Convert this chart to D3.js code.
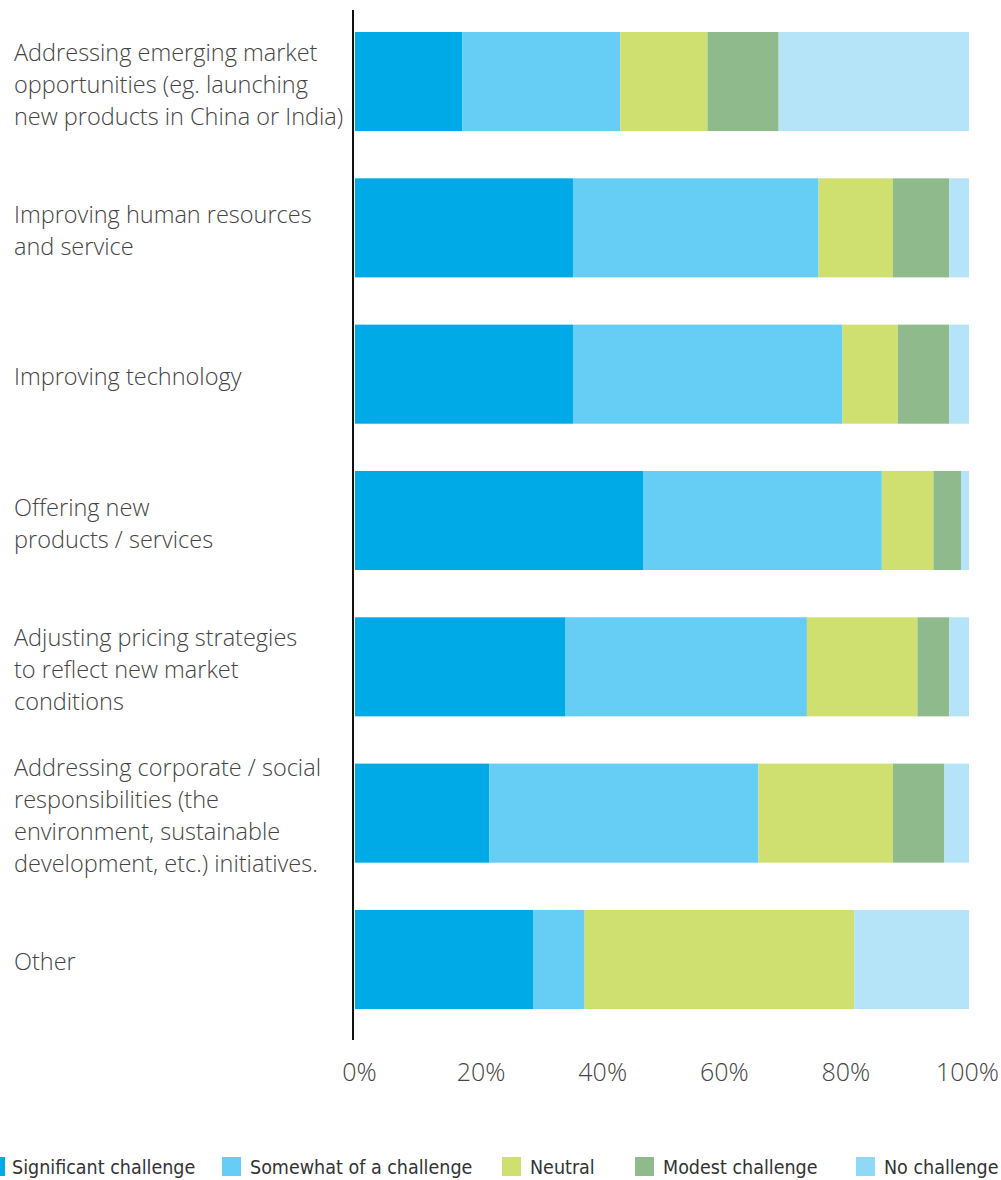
<!DOCTYPE html>
<html>
<head>
<meta charset="utf-8">
<script src="https://cdn.jsdelivr.net/npm/d3@7"></script>
<style>
  body { margin: 0; background: #fff; }
  svg { display: block; }
  .cat-label { font-family: "Open Sans", sans-serif; font-weight: 300; font-size: 23.5px; fill: #444; }
  .x-axis text { font-family: "Open Sans", sans-serif; font-weight: 300; font-size: 25px; fill: #444; }
  .legend text { font-family: "Liberation Sans Narrow", "DejaVu Sans Condensed", sans-serif; font-size: 19.5px; fill: #333; }
</style>
</head>
<body>
<svg id="chart"></svg>
<script>
// categories (label lines as drawn)
const categories = [
    ["Addressing emerging market", "opportunities (eg. launching", "new products in China or India)"],
    ["Improving human resources", "and service"],
    ["Improving technology"],
    ["Offering new", "products / services"],
    ["Adjusting pricing strategies", "to reflect new market", "conditions"],
    ["Addressing corporate / social", "responsibilities (the", "environment, sustainable", "development, etc.) initiatives."],
    ["Other"]
];

const seriesNames = ["Significant challenge", "Somewhat of a challenge", "Neutral", "Modest challenge", "No challenge"];

// percentages per category
const significant = [17.5, 35.5, 35.5, 47.0, 34.3, 21.9, 29.0];
const somewhat    = [25.7, 40.0, 43.9, 38.8, 39.3, 43.8,  8.4];
const neutral     = [14.2, 12.1,  9.0,  8.4, 18.0, 21.9, 43.9];
const modest      = [11.6,  9.2,  8.4,  4.5,  5.2,  8.4,  0.0];
const noChallenge = [31.0,  3.2,  3.2,  1.3,  3.2,  4.0, 18.7];

const tickValues = [0, 20, 40, 60, 80, 100];

const colors = ["#00aae7", "#66cdf5", "#cfe070", "#8fbb8c", "#b5e3f8"];
const legendColors = ["#00aae7", "#66cdf5", "#cfe070", "#8fbb8c", "#8fd8f6"];

const width = 1001, height = 1180;
const svg = d3.select("#chart").attr("width", width).attr("height", height);

const keys = seriesNames;
const rows = categories.map((c, i) => ({
    name: c.join(" "),
    lines: c,
    [keys[0]]: significant[i],
    [keys[1]]: somewhat[i],
    [keys[2]]: neutral[i],
    [keys[3]]: modest[i],
    [keys[4]]: noChallenge[i]
}));

const stacked = d3.stack().keys(keys)(rows);

const xScale = d3.scaleLinear().domain([0, 100]).range([355, 969]);
// the printed tick labels sit slightly off the bar scale in the original
const labelScale = d3.scaleLinear().domain([0, 100]).range([359, 967]);
const yScale = d3.scaleBand()
    .domain(rows.map(d => d.name))
    .range([32, 1009])
    .paddingInner(0.323)
    .paddingOuter(0);

const color = d3.scaleOrdinal().domain(keys).range(colors);

// bars
svg.append("g").selectAll("g")
    .data(stacked)
    .join("g")
    .attr("fill", d => color(d.key))
    .selectAll("rect")
    .data(d => d)
    .join("rect")
    .attr("x", d => xScale(d[0]))
    .attr("y", d => yScale(d.data.name))
    .attr("width", d => Math.max(0, xScale(d[1]) - xScale(d[0])))
    .attr("height", yScale.bandwidth());

// category labels, centred on each bar
const lineH = 32;
svg.append("g").selectAll("text")
    .data(rows)
    .join("text")
    .attr("class", "cat-label")
    .attr("x", 14)
    .attr("y", d => yScale(d.name) + yScale.bandwidth() / 2 - (d.lines.length - 1) * lineH / 2 + 11)
    .selectAll("tspan")
    .data(d => d.lines)
    .join("tspan")
    .attr("x", 14)
    .attr("dy", (d, i) => i === 0 ? 0 : lineH)
    .text(d => d);

// vertical axis line
svg.append("line")
    .attr("x1", 353).attr("x2", 353)
    .attr("y1", 10).attr("y2", 1040)
    .attr("stroke", "#111")
    .attr("stroke-width", 2);

// x axis
const xAxis = d3.axisBottom(labelScale)
    .tickValues(tickValues)
    .tickSize(0)
    .tickPadding(0)
    .tickFormat(d => d + "%");

svg.append("g")
    .attr("class", "x-axis")
    .attr("transform", "translate(0,1063)")
    .call(xAxis)
    .call(g => g.select(".domain").remove())
    .call(g => g.selectAll("text").attr("font-family", null).attr("font-size", null));

// legend
const legendX = [-14, 222, 502, 635, 856];
const legend = svg.append("g").attr("class", "legend");
const items = legend.selectAll("g")
    .data(keys)
    .join("g")
    .attr("transform", (d, i) => `translate(${legendX[i]},1157)`);
items.append("rect")
    .attr("width", 19).attr("height", 19)
    .attr("fill", (d, i) => legendColors[i]);
items.append("text")
    .attr("x", (d, i) => i === 0 ? 26 : 28)
    .attr("y", 17)
    .text(d => d);
</script>
</body>
</html>
